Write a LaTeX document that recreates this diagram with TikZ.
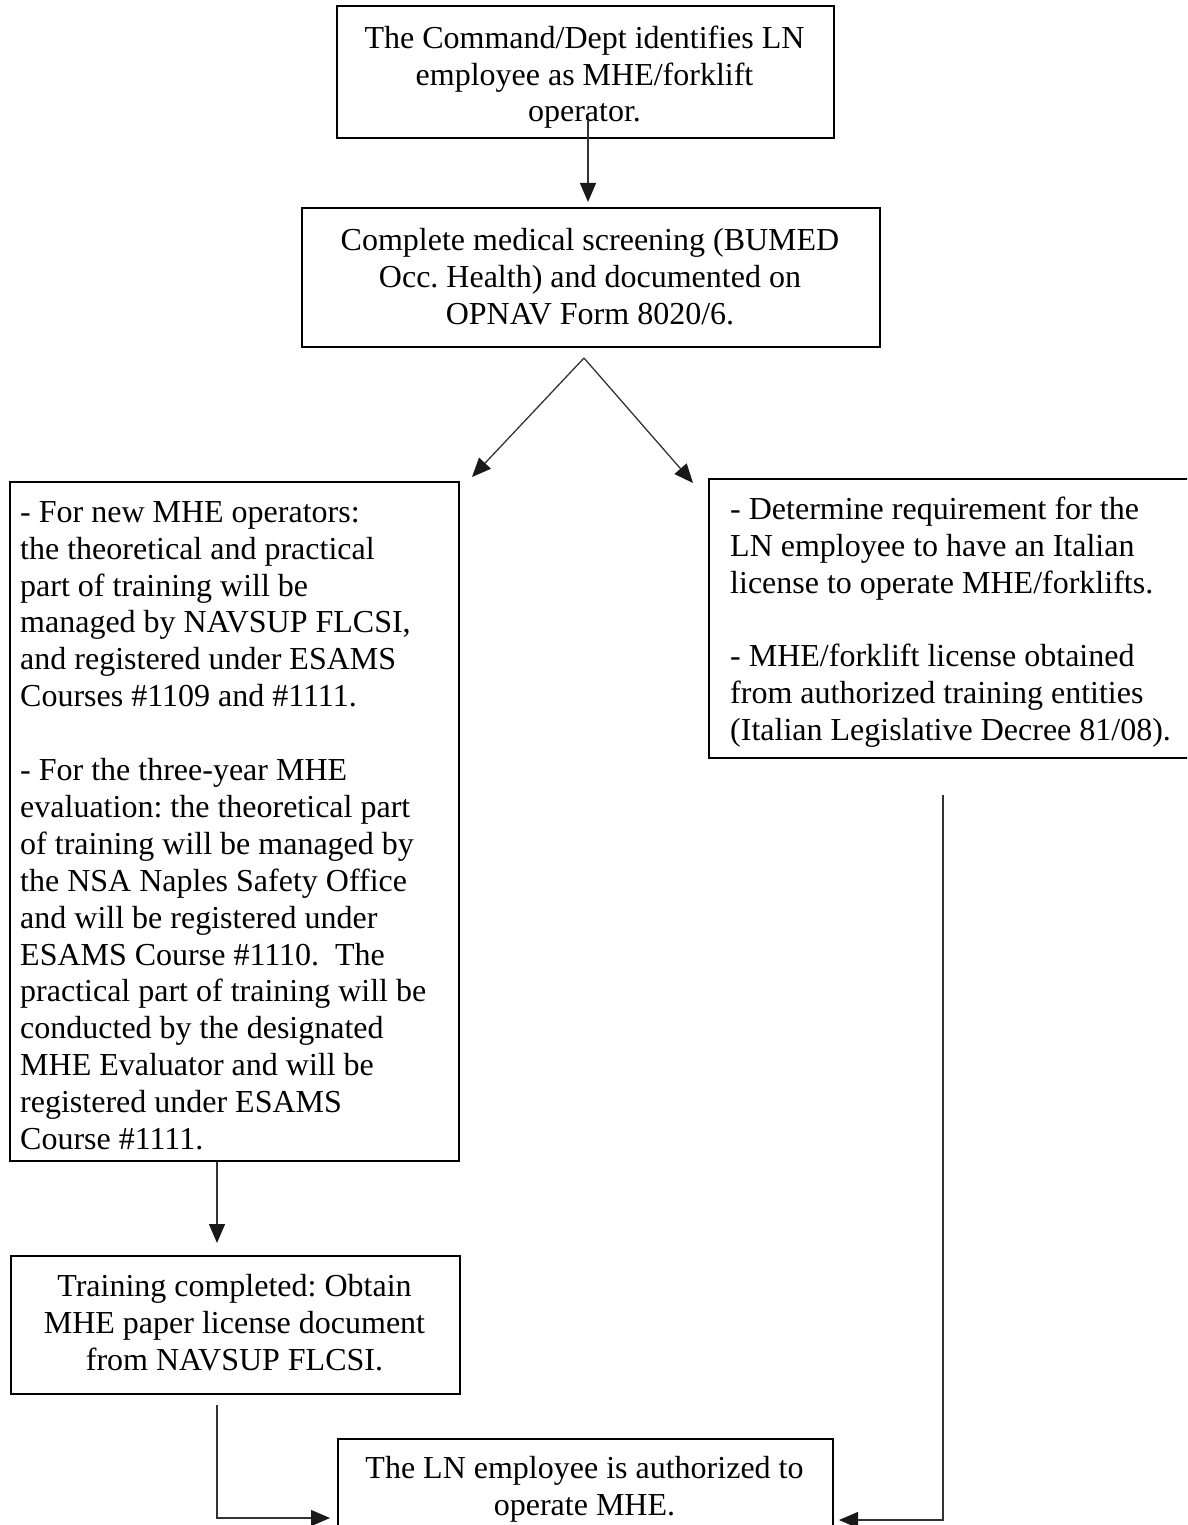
\documentclass[tikz,border=0pt]{standalone}
\usepackage{fontspec}
\setmainfont{Liberation Serif}
\usetikzlibrary{arrows.meta}
\newcommand{\firstln}{\rule{0pt}{24pt}}
\frenchspacing
\begin{document}
\begin{tikzpicture}[x=1pt,y=-1pt,
  box/.style={draw=black, line width=1.8pt, inner sep=0pt, anchor=north west},
  txt/.style={inner sep=0pt, font=\fontsize{32}{36.9}\selectfont, text=black},
  conn/.style={draw=black!80, line width=1.3pt},
  arr/.style={conn, -{Triangle[length=19pt,width=16pt,color=black!90]}}]
\useasboundingbox (0,0) rectangle (1187,1525);
\clip (0,0) rectangle (1187,1525);

% boxes
\node[box, minimum width=497pt, minimum height=132pt] (b1) at (336,5) {};
\node[box, minimum width=578pt, minimum height=139pt] (b2) at (301,207) {};
\node[box, minimum width=449pt, minimum height=679pt] (b3) at (9,481) {};
\node[box, minimum width=492pt, minimum height=279pt] (b4) at (708,478) {};
\node[box, minimum width=449pt, minimum height=138pt] (b5) at (10,1255) {};
\node[box, minimum width=495pt, minimum height=130pt] (b6) at (337,1438) {};

% texts
\node[txt, align=center, anchor=north] (t1) at (584.5,24)
  {\firstln The Command/Dept identifies LN\\ employee as MHE/forklift\\ operator.};
\node[txt, align=center, anchor=north] (t2) at (590,226)
  {\firstln Complete medical screening (BUMED\\ Occ. Health) and documented on\\ OPNAV Form 8020/6.};
\node[txt, align=left, anchor=north west] (t3) at (20,498)
  {\firstln - For new MHE operators:\\ the theoretical and practical\\ part of training will be\\ managed by NAVSUP FLCSI,\\ and registered under ESAMS\\ Courses \#1109 and \#1111.\\[36.9pt]
   - For the three-year MHE\\ evaluation: the theoretical part\\ of training will be managed by\\ the NSA Naples Safety Office\\ and will be registered under\\ ESAMS Course \#1110.\ \ The\\ practical part of training will be\\ conducted by the designated\\ MHE Evaluator and will be\\ registered under ESAMS\\ Course \#1111.};
\node[txt, align=left, anchor=north west] (t4) at (730,495)
  {\firstln - Determine requirement for the\\ LN employee to have an Italian\\ license to operate MHE/forklifts.\\[36.9pt]
   - MHE/forklift license obtained\\ from authorized training entities\\ (Italian Legislative Decree 81/08).};
\node[txt, align=center, anchor=north] (t5) at (234.5,1272)
  {\firstln Training completed: Obtain\\ MHE paper license document\\ from NAVSUP FLCSI.};
\node[txt, align=center, anchor=north] (t6) at (584.5,1454)
  {\firstln The LN employee is authorized to\\ operate MHE.};

% connector end points
\coordinate (c1s) at (588,120);
\coordinate (c1e) at (588,202);
\coordinate (apex) at (584,358);
\coordinate (tipl) at (472,477);
\coordinate (tipr) at (693,483);
\coordinate (c3e) at (217,1243);
\coordinate (c4s) at (217,1405);
\coordinate (c4e) at (330,1518);
\coordinate (c5s) at (943,795);
\coordinate (c5e) at (839,1520);

% connectors
\draw[arr] (c1s) -- (c1e);
\draw[arr] (apex) -- (tipl);
\draw[arr] (apex) -- (tipr);
\draw[arr] (c3e |- b3.south) -- (c3e);
\draw[arr] (c4s) |- (c4e);
\draw[arr] (c5s) |- (c5e);
\end{tikzpicture}
\end{document}
